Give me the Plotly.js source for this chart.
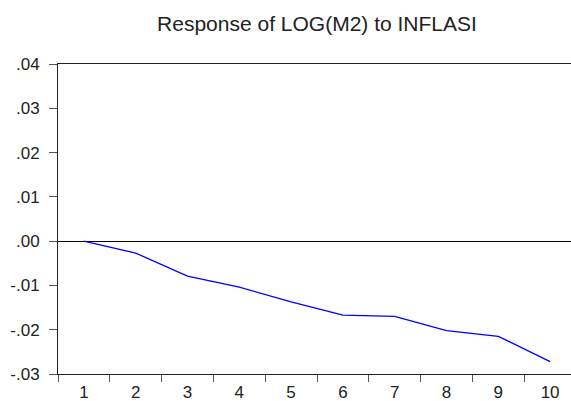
<!DOCTYPE html>
<html>
<head>
<meta charset="utf-8">
<script src="https://cdn.plot.ly/plotly-3.0.1.min.js"></script>
<style>
html,body{margin:0;padding:0;overflow:hidden;background:#fff;}
#chart{width:576px;height:401px;}
</style>
</head>
<body>
<div id="chart"></div>
<script>
var periods = ['1','2','3','4','5','6','7','8','9','10'];
var response = [0.0000, -0.0027, -0.0079, -0.0104, -0.0137, -0.0167, -0.0170, -0.0202, -0.0215, -0.0272];
var yTickVals = [-0.03, -0.02, -0.01, 0.00, 0.01, 0.02, 0.03, 0.04];
var yTickText = ['-.03', '-.02', '-.01', '.00', '.01', '.02', '.03', '.04'];
var chartTitle = 'Response of LOG(M2) to INFLASI';

var trace = {
  x: periods,
  y: response,
  type: 'scatter',
  mode: 'lines',
  line: {color: '#0000ff', width: 1.3},
  hoverinfo: 'skip'
};

var layout = {
  width: 576,
  height: 401,
  margin: {l: 58, r: 0, t: 64, b: 27, pad: 0},
  paper_bgcolor: '#ffffff',
  plot_bgcolor: '#ffffff',
  showlegend: false,
  font: {family: 'Liberation Sans, Arial, sans-serif', color: '#222', size: 17},
  title: {
    text: chartTitle,
    font: {family: 'Liberation Sans, Arial, sans-serif', size: 21, color: '#222'},
    x: 0.5, xref: 'paper', xanchor: 'center',
    y: 0.94, yref: 'container', yanchor: 'middle'
  },
  xaxis: {
    type: 'category',
    range: [-0.5, 9.5],
    tickson: 'boundaries',
    ticks: 'outside',
    ticklen: 7,
    tickwidth: 1,
    tickcolor: '#555',
    ticklabelstandoff: 3,
    showgrid: false,
    zeroline: false,
    showline: true,
    linecolor: '#222',
    linewidth: 1,
    mirror: true,
    tickfont: {size: 17, color: '#222'},
    fixedrange: true
  },
  yaxis: {
    range: [-0.03, 0.04],
    tickvals: yTickVals,
    ticktext: yTickText,
    ticks: 'outside',
    ticklen: 8,
    tickwidth: 1,
    tickcolor: '#555',
    ticklabelstandoff: 6,
    showgrid: false,
    zeroline: true,
    zerolinecolor: '#000',
    zerolinewidth: 1,
    showline: true,
    linecolor: '#222',
    linewidth: 1,
    tickfont: {size: 17, color: '#222'},
    fixedrange: true
  }
};

Plotly.newPlot('chart', [trace], layout, {displayModeBar: false, staticPlot: true});
</script>
</body>
</html>
